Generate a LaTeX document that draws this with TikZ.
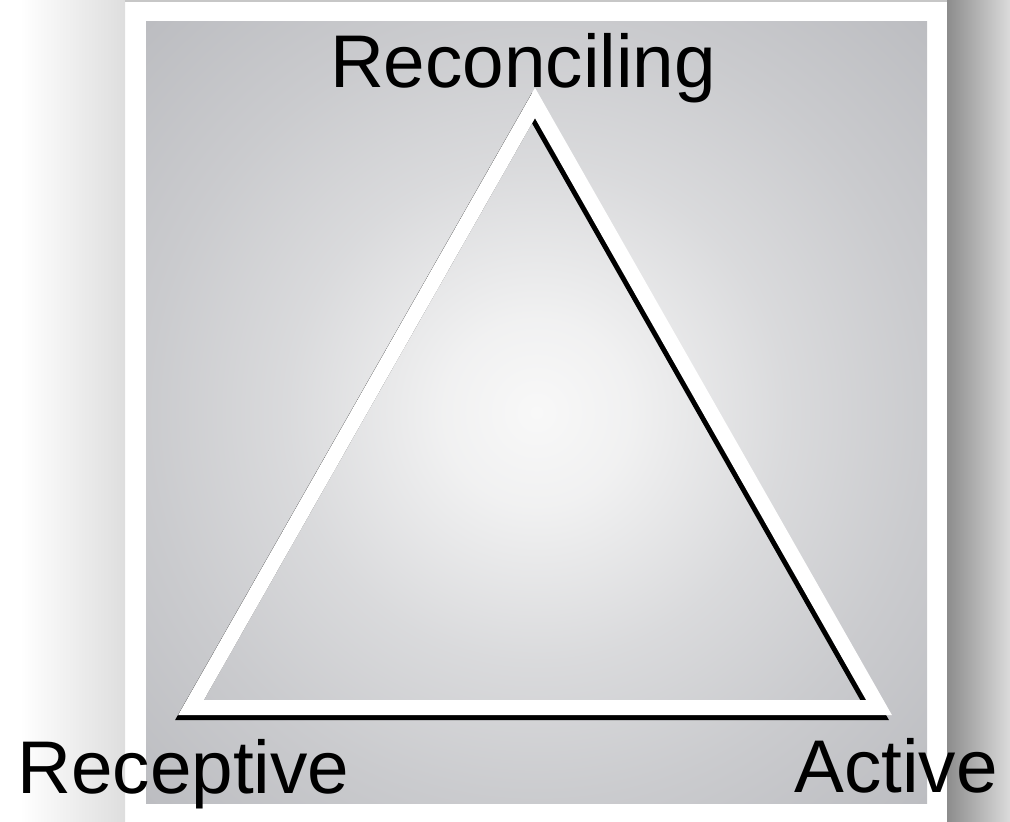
\documentclass[tikz,border=0pt]{standalone}
\usepackage{fontspec}
\setmainfont{Liberation Sans}
\usepackage{xcolor}
\usetikzlibrary{positioning, calc}

\definecolor{panelgray}{RGB}{187,188,192}
\definecolor{panelglow}{RGB}{248,248,248}
\pgfdeclareradialshading{panelshade}{\pgfpoint{0bp}{0bp}}{%
  color(0bp)=(panelglow); color(6bp)=(panelglow!88!panelgray);
  color(16bp)=(panelglow!50!panelgray); color(25bp)=(panelglow!25!panelgray);
  color(36bp)=(panelgray); color(50bp)=(panelgray)}

\begin{document}
\begin{tikzpicture}[
    x=0.02cm, y=-0.02cm,
    pole/.style={inner sep=0pt, text=black, font=\fontsize{42.5}{50}\selectfont},
    side/.style={draw=white, line width=15*0.02cm, line join=miter},
    sideshadow/.style={draw=black, line width=15*0.02cm, line join=miter},
]
\useasboundingbox (0,0) rectangle (1010,821);

% Frame shadows
\shade[left color=white, right color=black!13] (20,0) rectangle (125,821);
\shade[left color=black!45, right color=black!14] (947,0) rectangle (1010,821);
\fill[black!22] (125,0) rectangle (947,2);

% Panel
\shade[shading=panelshade] (146,22) rectangle (927,803);

% Triangle corners
\coordinate (top) at (535,103);
\coordinate (left) at (191,707.5);
\coordinate (right) at (879,707.5);

% Triangle
\draw [sideshadow] ([shift={(-3,5)}]top) -- ([shift={(-3,5)}]right) -- ([shift={(-3,5)}]left) -- cycle;
\draw [side] (top) -- (right) -- (left) -- cycle;

% Labels
\node (recon) [pole, anchor=base] at (523,88) {Reconciling};
\node (recep) [pole, anchor=base west] at (17,793) {Receptive};
\node (act) [pole, anchor=base east] at (998,792) {Active};

\end{tikzpicture}
\end{document}
